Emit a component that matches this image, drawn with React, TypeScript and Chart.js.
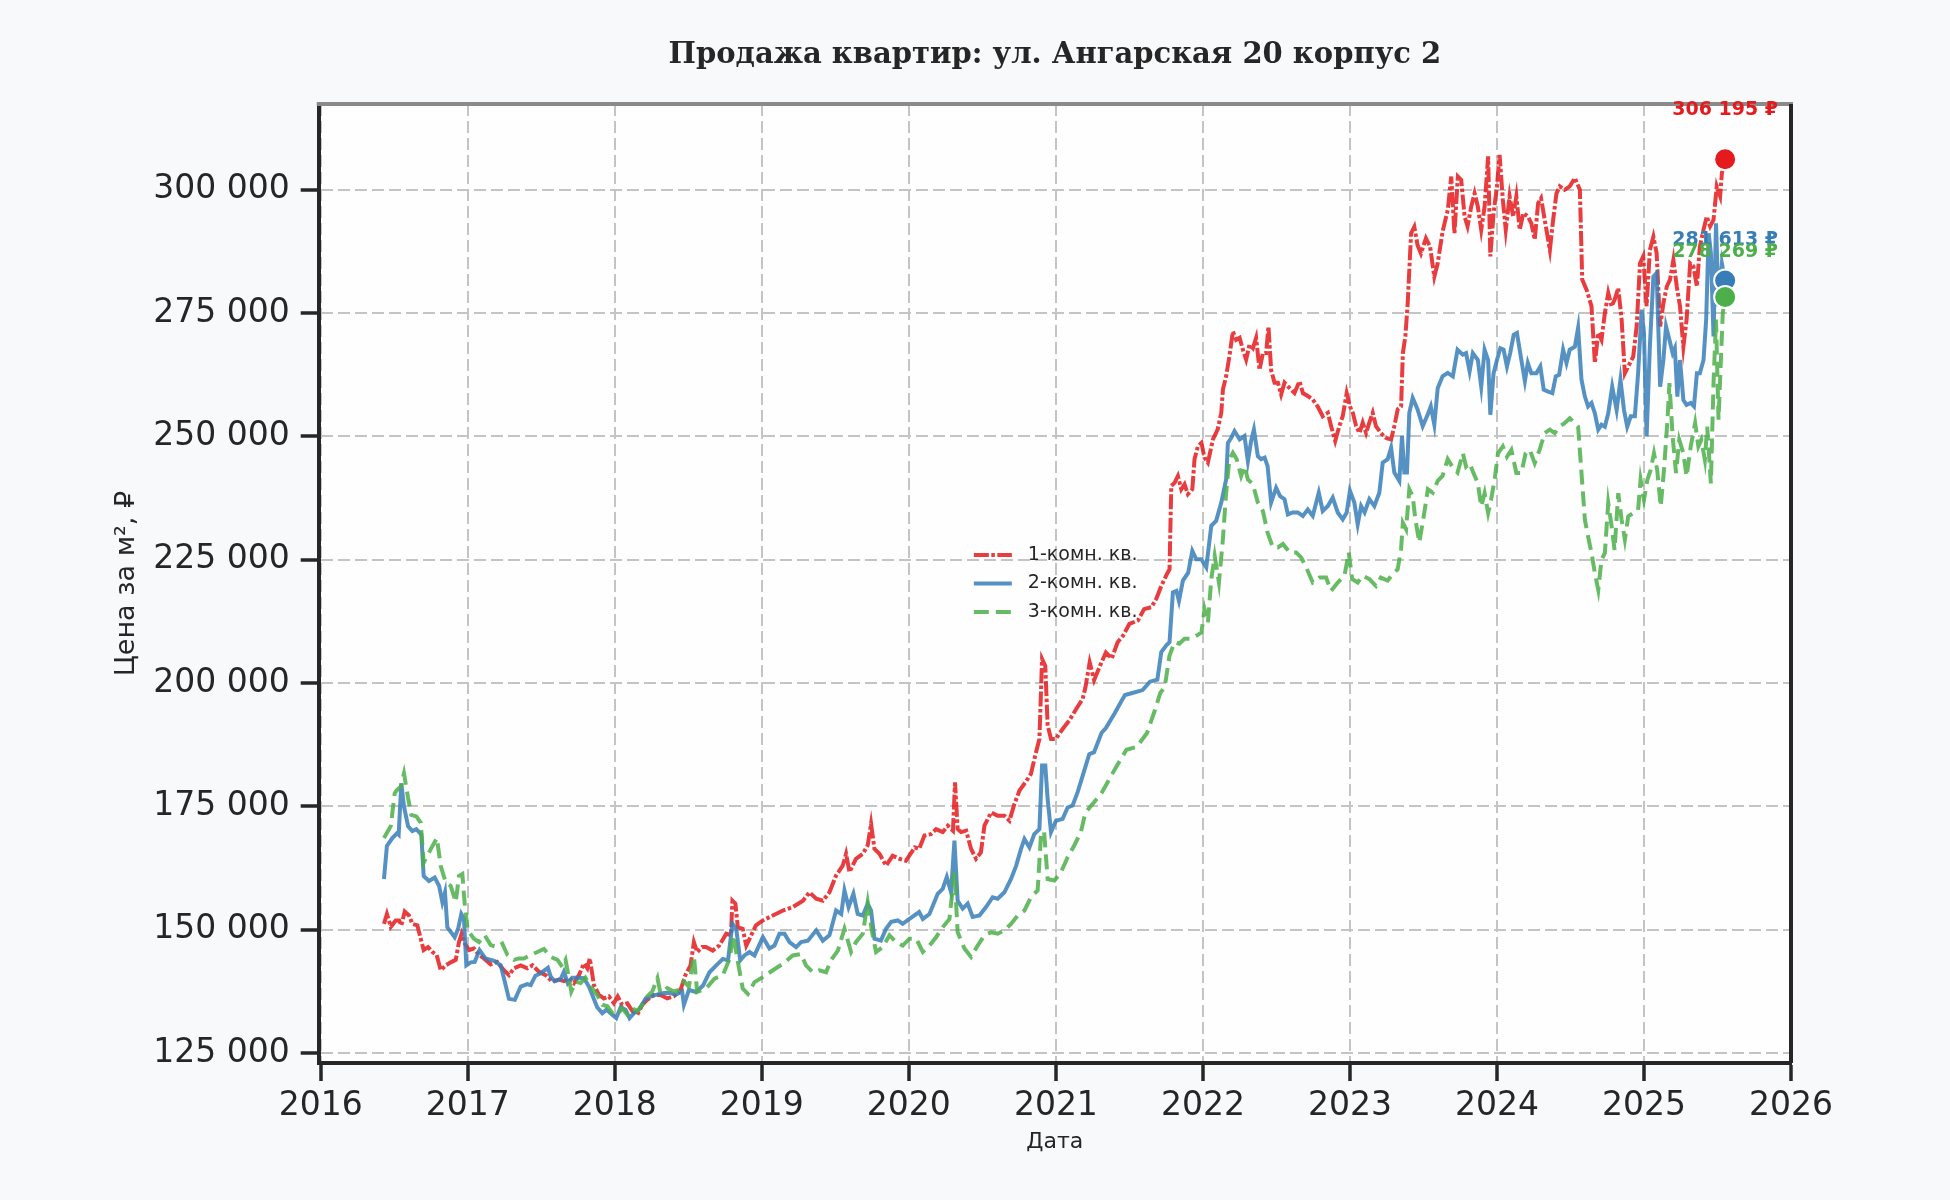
import { useEffect, useRef } from 'react';
import { Chart, registerables } from 'chart.js';

Chart.register(...registerables);

// texts
const chartTitle = 'Продажа квартир: ул. Ангарская 20 корпус 2';
const xAxisTitle = 'Дата';
const yAxisTitle = 'Цена за м², ₽';
const seriesLabels = ['1-комн. кв.', '2-комн. кв.', '3-комн. кв.'];

// axis ticks
const yearTicks = [2016, 2017, 2018, 2019, 2020, 2021, 2022, 2023, 2024, 2025, 2026];
const priceTicks = [125000, 150000, 175000, 200000, 225000, 250000, 275000, 300000];

// [год, цена за м²]
const oneRoom: [number, number][] = [
  [2016.43, 151200], [2016.45, 153200], [2016.476, 150600], [2016.51, 151900], [2016.533, 151900],
  [2016.548, 150900], [2016.571, 153700], [2016.6, 152900], [2016.623, 151200], [2016.657, 150900],
  [2016.68, 148200], [2016.7, 145900], [2016.73, 146500], [2016.76, 145500], [2016.788, 144900],
  [2016.816, 141800], [2016.85, 142800], [2016.884, 143400], [2016.918, 143900], [2016.94, 147500],
  [2016.958, 149200], [2016.98, 147200], [2017.008, 145900], [2017.042, 146200], [2017.076, 144900],
  [2017.11, 144200], [2017.156, 143000], [2017.2, 143500], [2017.246, 141800], [2017.28, 140800],
  [2017.314, 142200], [2017.36, 142800], [2017.405, 142200], [2017.44, 142800], [2017.484, 141500],
  [2017.53, 140800], [2017.575, 139500], [2017.62, 139900], [2017.654, 139600], [2017.688, 140200],
  [2017.722, 139200], [2017.756, 140800], [2017.79, 143200], [2017.813, 142200], [2017.83, 144200],
  [2017.858, 138800], [2017.892, 136800], [2017.926, 136100], [2017.96, 136500], [2017.994, 135100],
  [2018.02, 136500], [2018.05, 134800], [2018.085, 135100], [2018.12, 133500], [2018.153, 132800],
  [2018.187, 134800], [2018.22, 135800], [2018.266, 136800], [2018.31, 136800], [2018.357, 136100],
  [2018.4, 136500], [2018.447, 137800], [2018.48, 140800], [2018.515, 142800], [2018.538, 147500],
  [2018.56, 145500], [2018.595, 146500], [2018.62, 146500], [2018.666, 145800], [2018.71, 146800],
  [2018.758, 149200], [2018.79, 148900], [2018.8, 155900], [2018.82, 155300], [2018.837, 150500],
  [2018.87, 150200], [2018.894, 146800], [2018.928, 148900], [2018.96, 150900], [2019.007, 151900],
  [2019.075, 152900], [2019.143, 153900], [2019.21, 154600], [2019.28, 155900], [2019.324, 157600],
  [2019.37, 156300], [2019.415, 155900], [2019.46, 157600], [2019.505, 161000], [2019.55, 163000],
  [2019.573, 165400], [2019.596, 161700], [2019.64, 164400], [2019.687, 165400], [2019.72, 167100],
  [2019.743, 171500], [2019.766, 166400], [2019.8, 165400], [2019.845, 163000], [2019.89, 165000],
  [2019.936, 164400], [2019.98, 164000], [2020.04, 166700], [2020.07, 166400], [2020.106, 169100],
  [2020.15, 169400], [2020.185, 170400], [2020.23, 169800], [2020.265, 171100], [2020.3, 170100],
  [2020.314, 179900], [2020.332, 170400], [2020.355, 169800], [2020.39, 170100], [2020.423, 166400],
  [2020.457, 164400], [2020.49, 165700], [2020.514, 171100], [2020.56, 173800], [2020.604, 173100],
  [2020.65, 173100], [2020.684, 172100], [2020.718, 175500], [2020.752, 178200], [2020.8, 180200],
  [2020.83, 181600], [2020.865, 186000], [2020.888, 188700], [2020.906, 204900], [2020.928, 203500],
  [2020.944, 191400], [2020.967, 188700], [2021.0, 188700], [2021.046, 190700], [2021.09, 192400],
  [2021.137, 194700], [2021.182, 196800], [2021.2, 199000], [2021.23, 204200], [2021.26, 200600],
  [2021.3, 203500], [2021.34, 206200], [2021.38, 205000], [2021.42, 208300], [2021.456, 209600],
  [2021.5, 212000], [2021.558, 212700], [2021.6, 215000], [2021.65, 215400], [2021.683, 217100],
  [2021.717, 219700], [2021.75, 221800], [2021.773, 223100], [2021.785, 240000], [2021.807, 240600],
  [2021.83, 242000], [2021.853, 239300], [2021.875, 240300], [2021.898, 238300], [2021.928, 239300],
  [2021.943, 245400], [2021.966, 248000], [2021.99, 248700], [2022.011, 245700], [2022.034, 244700],
  [2022.068, 249400], [2022.1, 251400], [2022.125, 254800], [2022.136, 259500], [2022.158, 262200],
  [2022.18, 266200], [2022.204, 271300], [2022.226, 269600], [2022.25, 270000], [2022.272, 267600],
  [2022.294, 265600], [2022.317, 268600], [2022.34, 267900], [2022.362, 270000], [2022.385, 263500],
  [2022.408, 266900], [2022.43, 266900], [2022.446, 272300], [2022.464, 263500], [2022.487, 260900],
  [2022.51, 260900], [2022.532, 258500], [2022.555, 260900], [2022.59, 259800], [2022.623, 258800],
  [2022.657, 261200], [2022.68, 258800], [2022.713, 258200], [2022.747, 257500], [2022.78, 256100],
  [2022.815, 254100], [2022.85, 254800], [2022.872, 252100], [2022.9, 249100], [2022.928, 252100],
  [2022.951, 254100], [2022.978, 258800], [2023.0, 256100], [2023.02, 254800], [2023.042, 252100],
  [2023.065, 250700], [2023.087, 252800], [2023.11, 250700], [2023.132, 252800], [2023.155, 254800],
  [2023.177, 252100], [2023.21, 250700], [2023.246, 249700], [2023.28, 249400], [2023.302, 252100],
  [2023.325, 255500], [2023.348, 256100], [2023.36, 266900], [2023.377, 270300], [2023.393, 277000],
  [2023.416, 291200], [2023.438, 292500], [2023.46, 288800], [2023.483, 287100], [2023.517, 290200],
  [2023.545, 288500], [2023.574, 282400], [2023.597, 285100], [2023.63, 291500], [2023.666, 296000],
  [2023.689, 302700], [2023.711, 291200], [2023.734, 302700], [2023.757, 302000], [2023.78, 294600],
  [2023.8, 292600], [2023.825, 296600], [2023.848, 299300], [2023.87, 296600], [2023.893, 291900],
  [2023.916, 296600], [2023.94, 306800], [2023.955, 286500], [2023.977, 295300], [2024.0, 300700],
  [2024.018, 307100], [2024.04, 298000], [2024.06, 291900], [2024.086, 298700], [2024.11, 294600],
  [2024.132, 298700], [2024.155, 291900], [2024.18, 295300], [2024.21, 294600], [2024.234, 293200],
  [2024.257, 289900], [2024.28, 297300], [2024.3, 298300], [2024.325, 293900], [2024.36, 287800],
  [2024.382, 293900], [2024.405, 299300], [2024.427, 300700], [2024.46, 300000], [2024.495, 300700],
  [2024.53, 302400], [2024.564, 300000], [2024.58, 281800], [2024.61, 279700], [2024.643, 276400],
  [2024.666, 264900], [2024.689, 271000], [2024.711, 269600], [2024.734, 275000], [2024.757, 279100],
  [2024.78, 276400], [2024.8, 277700], [2024.825, 280100], [2024.848, 273700], [2024.87, 262800],
  [2024.893, 264200], [2024.927, 266200], [2024.95, 272300], [2024.973, 285100], [2024.995, 286500],
  [2025.018, 276400], [2025.04, 287800], [2025.064, 290500], [2025.086, 287200], [2025.11, 272300],
  [2025.132, 277000], [2025.155, 280400], [2025.177, 281800], [2025.2, 285800], [2025.223, 280400],
  [2025.245, 276400], [2025.268, 268200], [2025.29, 273700], [2025.314, 285100], [2025.336, 284500],
  [2025.36, 280400], [2025.38, 288500], [2025.405, 291900], [2025.427, 294600], [2025.45, 292600],
  [2025.473, 293900], [2025.495, 300700], [2025.518, 298700], [2025.53, 303400], [2025.552, 306195],
];

const twoRoom: [number, number][] = [
  [2016.43, 160300], [2016.45, 167000], [2016.487, 168600], [2016.52, 169600], [2016.53, 169300],
  [2016.548, 179700], [2016.566, 175000], [2016.594, 171000], [2016.623, 170000], [2016.65, 170400],
  [2016.684, 169300], [2016.7, 160900], [2016.736, 159900], [2016.775, 160600], [2016.805, 158900],
  [2016.827, 155600], [2016.845, 157600], [2016.861, 150500], [2016.911, 148500], [2016.934, 150200],
  [2016.956, 153200], [2016.974, 152200], [2016.99, 142800], [2017.02, 143400], [2017.047, 143500],
  [2017.08, 145900], [2017.12, 144200], [2017.18, 143700], [2017.224, 142800], [2017.246, 140200],
  [2017.28, 136000], [2017.32, 135800], [2017.36, 138500], [2017.405, 139000], [2017.428, 138800],
  [2017.46, 140700], [2017.496, 141200], [2017.545, 142300], [2017.564, 140500], [2017.59, 139600],
  [2017.632, 140000], [2017.654, 141500], [2017.68, 139200], [2017.71, 140300], [2017.745, 140300],
  [2017.79, 140200], [2017.824, 138500], [2017.88, 134300], [2017.915, 133100], [2017.944, 133800],
  [2017.971, 133100], [2018.01, 132100], [2018.04, 134300], [2018.073, 133800], [2018.1, 132100],
  [2018.13, 133100], [2018.164, 133800], [2018.21, 136100], [2018.277, 136800], [2018.334, 137200],
  [2018.38, 137200], [2018.413, 136800], [2018.458, 137500], [2018.47, 134800], [2018.504, 137800],
  [2018.553, 137400], [2018.6, 138700], [2018.644, 141400], [2018.69, 142800], [2018.735, 144100],
  [2018.77, 143800], [2018.8, 151200], [2018.826, 150200], [2018.853, 143800], [2018.882, 144800],
  [2018.916, 145500], [2018.95, 144800], [2019.007, 148500], [2019.052, 146200], [2019.086, 146800],
  [2019.12, 149200], [2019.154, 149200], [2019.188, 147500], [2019.233, 146500], [2019.267, 147500],
  [2019.313, 147800], [2019.37, 149900], [2019.415, 147800], [2019.46, 148900], [2019.505, 153900],
  [2019.54, 153200], [2019.562, 158000], [2019.59, 154600], [2019.623, 157300], [2019.652, 153200],
  [2019.687, 152900], [2019.72, 155300], [2019.743, 153900], [2019.766, 148200], [2019.81, 147800],
  [2019.845, 150200], [2019.88, 151600], [2019.925, 151900], [2019.958, 151200], [2020.004, 152200],
  [2020.07, 153600], [2020.095, 152200], [2020.14, 153200], [2020.196, 157300], [2020.23, 158300],
  [2020.258, 160700], [2020.287, 157600], [2020.31, 168100], [2020.332, 155900], [2020.366, 154300],
  [2020.4, 155300], [2020.434, 152600], [2020.48, 152900], [2020.525, 154600], [2020.57, 156600],
  [2020.604, 156300], [2020.65, 157600], [2020.695, 160300], [2020.73, 163000], [2020.763, 166400],
  [2020.786, 168400], [2020.82, 166700], [2020.853, 169400], [2020.888, 170400], [2020.906, 183300],
  [2020.928, 183300], [2020.944, 176500], [2020.967, 169800], [2021.0, 172100], [2021.046, 172500],
  [2021.08, 174800], [2021.114, 175200], [2021.148, 177900], [2021.182, 181200], [2021.227, 185600],
  [2021.26, 186000], [2021.31, 189900], [2021.34, 190900], [2021.4, 193900], [2021.45, 196600],
  [2021.47, 197600], [2021.52, 198000], [2021.59, 198600], [2021.64, 200300], [2021.69, 200700],
  [2021.717, 206300], [2021.75, 207600], [2021.773, 208300], [2021.796, 218400], [2021.82, 218700],
  [2021.837, 216700], [2021.864, 220800], [2021.9, 222400], [2021.928, 226800], [2021.955, 225100],
  [2021.99, 225100], [2022.023, 223500], [2022.057, 231900], [2022.09, 232900], [2022.125, 236600],
  [2022.158, 241300], [2022.17, 248700], [2022.192, 249700], [2022.215, 251100], [2022.25, 249400],
  [2022.283, 250100], [2022.306, 245000], [2022.328, 249100], [2022.347, 251400], [2022.374, 246000],
  [2022.396, 245400], [2022.42, 245700], [2022.44, 244000], [2022.464, 236600], [2022.498, 239600],
  [2022.525, 237900], [2022.555, 237300], [2022.578, 234200], [2022.61, 234600], [2022.645, 234600],
  [2022.68, 233900], [2022.713, 235200], [2022.747, 233900], [2022.788, 238600], [2022.815, 234900],
  [2022.85, 235900], [2022.883, 237600], [2022.917, 234600], [2022.951, 233200], [2022.978, 234600],
  [2023.0, 239000], [2023.03, 236600], [2023.053, 232200], [2023.076, 235900], [2023.1, 234600],
  [2023.132, 237300], [2023.166, 235900], [2023.2, 238600], [2023.223, 244700], [2023.257, 245400],
  [2023.28, 247700], [2023.302, 242700], [2023.336, 241000], [2023.354, 250100], [2023.37, 242700],
  [2023.388, 242700], [2023.404, 254800], [2023.427, 257800], [2023.46, 255500], [2023.495, 252100],
  [2023.53, 254500], [2023.55, 256100], [2023.574, 252400], [2023.597, 259800], [2023.63, 262200],
  [2023.665, 262900], [2023.7, 262200], [2023.732, 267600], [2023.768, 266600], [2023.79, 266900],
  [2023.814, 263200], [2023.836, 266900], [2023.87, 265500], [2023.893, 260100], [2023.916, 267600],
  [2023.94, 265500], [2023.955, 254400], [2023.977, 262800], [2024.0, 265500], [2024.023, 267900],
  [2024.045, 267600], [2024.068, 264200], [2024.09, 266900], [2024.114, 270600], [2024.136, 271000],
  [2024.166, 265500], [2024.19, 261200], [2024.21, 264900], [2024.234, 262800], [2024.268, 262800],
  [2024.295, 264200], [2024.318, 259500], [2024.348, 259100], [2024.377, 258800], [2024.4, 262200],
  [2024.423, 262500], [2024.45, 267600], [2024.473, 264900], [2024.495, 267600], [2024.53, 268200],
  [2024.552, 272000], [2024.575, 261500], [2024.598, 258100], [2024.62, 256100], [2024.643, 256800],
  [2024.666, 254700], [2024.689, 251400], [2024.711, 252400], [2024.734, 252000], [2024.757, 254700],
  [2024.784, 260100], [2024.814, 255400], [2024.84, 261500], [2024.864, 255400], [2024.886, 252000],
  [2024.91, 254100], [2024.938, 254100], [2024.96, 262800], [2024.984, 275700], [2025.0, 271000],
  [2025.018, 250000], [2025.04, 268200], [2025.064, 282400], [2025.086, 283100], [2025.11, 260100],
  [2025.132, 265500], [2025.15, 272300], [2025.173, 269600], [2025.195, 266900], [2025.21, 267900],
  [2025.227, 258100], [2025.245, 265500], [2025.268, 257400], [2025.29, 256400], [2025.318, 256800],
  [2025.34, 256100], [2025.36, 262800], [2025.38, 262800], [2025.405, 265500], [2025.423, 273700],
  [2025.44, 291200], [2025.455, 287200], [2025.473, 270300], [2025.49, 293200], [2025.507, 276400],
  [2025.53, 285100], [2025.552, 281613],
];

const threeRoom: [number, number][] = [
  [2016.43, 168600], [2016.476, 171000], [2016.503, 177700], [2016.52, 178400], [2016.544, 179000],
  [2016.566, 181700], [2016.594, 176700], [2016.616, 173300], [2016.65, 173000], [2016.68, 171700],
  [2016.7, 163600], [2016.73, 165300], [2016.76, 167000], [2016.79, 168600], [2016.816, 162900],
  [2016.85, 159600], [2016.884, 158900], [2016.918, 155600], [2016.94, 160900], [2016.963, 161300],
  [2016.98, 154900], [2017.0, 149900], [2017.042, 148200], [2017.076, 147500], [2017.115, 148900],
  [2017.156, 146900], [2017.2, 146500], [2017.235, 147200], [2017.27, 144900], [2017.314, 143900],
  [2017.348, 144200], [2017.382, 144200], [2017.428, 144900], [2017.473, 145500], [2017.518, 146100],
  [2017.564, 144500], [2017.61, 143900], [2017.643, 142500], [2017.665, 143900], [2017.68, 141500],
  [2017.704, 137500], [2017.734, 139500], [2017.768, 139200], [2017.8, 140300], [2017.836, 138500],
  [2017.88, 136800], [2017.915, 134800], [2017.95, 134500], [2017.983, 133100], [2018.017, 132800],
  [2018.05, 134100], [2018.085, 132800], [2018.12, 134100], [2018.153, 133500], [2018.187, 134800],
  [2018.22, 136500], [2018.255, 137500], [2018.29, 140200], [2018.31, 137200], [2018.357, 138200],
  [2018.4, 137500], [2018.437, 137800], [2018.47, 139500], [2018.504, 138500], [2018.538, 144700],
  [2018.56, 137400], [2018.62, 138100], [2018.678, 140100], [2018.735, 140800], [2018.78, 144100],
  [2018.807, 148900], [2018.837, 143500], [2018.87, 138100], [2018.905, 137000], [2018.95, 139400],
  [2019.007, 140400], [2019.075, 141800], [2019.143, 143100], [2019.21, 144800], [2019.267, 145100],
  [2019.3, 142800], [2019.347, 141400], [2019.392, 141800], [2019.437, 141400], [2019.47, 143800],
  [2019.517, 145800], [2019.562, 150200], [2019.607, 145500], [2019.64, 147500], [2019.687, 149200],
  [2019.72, 155600], [2019.75, 149500], [2019.777, 145500], [2019.822, 146500], [2019.868, 148900],
  [2019.913, 147500], [2019.958, 146800], [2020.004, 148200], [2020.05, 148200], [2020.095, 145500],
  [2020.14, 146800], [2020.185, 148500], [2020.23, 150500], [2020.276, 152200], [2020.31, 161700],
  [2020.332, 149500], [2020.378, 146200], [2020.423, 144500], [2020.468, 146800], [2020.514, 148900],
  [2020.56, 149500], [2020.604, 149200], [2020.65, 149900], [2020.695, 151200], [2020.74, 152900],
  [2020.786, 153900], [2020.83, 156600], [2020.876, 158000], [2020.9, 169800], [2020.92, 169800],
  [2020.944, 160300], [2020.99, 160000], [2021.035, 161700], [2021.08, 164700], [2021.125, 167100],
  [2021.17, 169800], [2021.2, 173700], [2021.31, 177700], [2021.41, 183000], [2021.48, 186500],
  [2021.55, 187100], [2021.62, 189900], [2021.67, 194200], [2021.71, 198000], [2021.74, 199200],
  [2021.773, 205600], [2021.807, 208300], [2021.84, 208000], [2021.875, 209000], [2021.92, 209000],
  [2021.955, 209600], [2021.99, 210300], [2022.011, 215000], [2022.034, 212300], [2022.057, 221100],
  [2022.08, 225800], [2022.109, 220400], [2022.136, 229200], [2022.158, 238600], [2022.18, 245400],
  [2022.204, 246700], [2022.23, 245400], [2022.26, 242000], [2022.283, 244000], [2022.306, 241300],
  [2022.34, 240300], [2022.374, 236600], [2022.408, 234900], [2022.44, 230500], [2022.476, 227500],
  [2022.51, 227500], [2022.544, 228200], [2022.59, 226500], [2022.634, 226500], [2022.668, 225500],
  [2022.702, 223500], [2022.747, 220400], [2022.793, 221400], [2022.838, 221400], [2022.872, 218700],
  [2022.917, 220400], [2022.963, 221800], [2022.992, 226500], [2023.015, 221100], [2023.053, 220400],
  [2023.087, 221800], [2023.132, 221100], [2023.177, 219700], [2023.21, 221400], [2023.257, 220800],
  [2023.29, 222100], [2023.325, 223100], [2023.348, 227200], [2023.36, 232500], [2023.382, 231200],
  [2023.404, 239300], [2023.427, 237900], [2023.445, 233200], [2023.472, 228500], [2023.506, 234600],
  [2023.53, 239300], [2023.563, 238600], [2023.597, 241000], [2023.63, 242000], [2023.665, 245400],
  [2023.7, 243700], [2023.732, 242700], [2023.768, 246600], [2023.79, 243900], [2023.814, 244600],
  [2023.836, 242900], [2023.87, 240500], [2023.893, 235800], [2023.916, 238500], [2023.94, 234500],
  [2023.96, 237200], [2023.984, 241200], [2024.007, 246600], [2024.04, 248000], [2024.068, 245900],
  [2024.098, 247300], [2024.132, 242600], [2024.166, 242600], [2024.195, 246600], [2024.223, 247300],
  [2024.257, 244600], [2024.29, 247300], [2024.325, 250700], [2024.36, 251400], [2024.393, 250700],
  [2024.427, 252000], [2024.46, 252700], [2024.495, 253700], [2024.52, 253000], [2024.552, 252000],
  [2024.575, 242600], [2024.598, 233100], [2024.62, 229700], [2024.643, 226400], [2024.666, 222300],
  [2024.689, 218900], [2024.711, 225000], [2024.734, 226400], [2024.757, 236500], [2024.78, 231800],
  [2024.8, 227000], [2024.825, 238500], [2024.848, 233100], [2024.87, 229100], [2024.893, 233800],
  [2024.927, 234500], [2024.96, 235100], [2024.977, 241200], [2025.0, 237200], [2025.023, 241200],
  [2025.045, 243200], [2025.068, 246600], [2025.09, 243200], [2025.114, 235800], [2025.136, 243200],
  [2025.16, 253400], [2025.173, 260800], [2025.195, 250000], [2025.218, 242600], [2025.24, 249300],
  [2025.268, 246600], [2025.29, 241900], [2025.318, 248000], [2025.348, 252700], [2025.37, 248000],
  [2025.39, 249300], [2025.414, 245300], [2025.43, 252000], [2025.455, 240500], [2025.473, 260800],
  [2025.49, 273700], [2025.507, 253400], [2025.525, 266900], [2025.536, 275000], [2025.552, 278269],
];

const allSeries = [oneRoom, twoRoom, threeRoom];

// styles
const FIG_BG = '#f8f9fb';
const PLOT_BG = '#fefefe';
const INK = '#262626';
const lineColors = ['rgba(228,26,28,0.85)', 'rgba(55,126,184,0.85)', 'rgba(77,175,74,0.85)'];
const dotColors = ['#e41a1c', '#377eb8', '#4daf4a'];
const lineDashes = [[15, 2.5, 3.5, 2.5], [], [15, 7]];
const labelOffsets = [-49, -40, -45];

const fmt = (v: number) => Math.round(v).toString().replace(/\B(?=(\d{3})+(?!\d))/g, ' ');

const backgroundPlugin = {
  id: 'bg',
  beforeDraw(chart: any) {
    const { ctx, chartArea: a, width, height } = chart;
    ctx.save();
    ctx.fillStyle = FIG_BG;
    ctx.fillRect(0, 0, width, height);
    ctx.fillStyle = PLOT_BG;
    ctx.fillRect(a.left, a.top, a.right - a.left, a.bottom - a.top);
    ctx.restore();
  },
};

const framePlugin = {
  id: 'frame',
  afterDatasetsDraw(chart: any) {
    const { ctx, chartArea: a } = chart;
    ctx.save();
    ctx.lineWidth = 4;
    ctx.strokeStyle = '#8a8a8a';
    ctx.beginPath();
    ctx.moveTo(a.left - 2, a.top);
    ctx.lineTo(a.right + 2, a.top);
    ctx.stroke();
    ctx.strokeStyle = INK;
    ctx.beginPath();
    ctx.moveTo(a.right, a.top);
    ctx.lineTo(a.right, a.bottom);
    ctx.stroke();
    ctx.restore();
  },
};

const endLabelPlugin = {
  id: 'endLabels',
  afterDatasetsDraw(chart: any) {
    const { ctx } = chart;
    ctx.save();
    ctx.font = 'bold 19px "DejaVu Sans"';
    ctx.textAlign = 'center';
    ctx.textBaseline = 'middle';
    allSeries.forEach((series, i) => {
      const meta = chart.getDatasetMeta(i);
      const pt = meta.data[meta.data.length - 1];
      const last = series[series.length - 1];
      ctx.fillStyle = dotColors[i];
      ctx.fillText(`${fmt(last[1])} ₽`, pt.x, pt.y + labelOffsets[i]);
    });
    ctx.restore();
  },
};

const titleLegendPlugin = {
  id: 'titleLegend',
  afterDraw(chart: any) {
    const { ctx, chartArea: a } = chart;
    const cx = (a.left + a.right) / 2;
    const cy = (a.top + a.bottom) / 2;
    ctx.save();
    ctx.fillStyle = INK;
    ctx.font = 'bold 29px "DejaVu Serif"';
    ctx.textAlign = 'center';
    ctx.textBaseline = 'middle';
    ctx.fillText(chartTitle, cx, 55);

    const x0 = cx - 81;
    ctx.font = '19px "DejaVu Sans"';
    ctx.textAlign = 'left';
    seriesLabels.forEach((label, i) => {
      const y = cy + (i - 1) * 28.5;
      ctx.strokeStyle = lineColors[i];
      ctx.lineWidth = 4;
      ctx.setLineDash(lineDashes[i]);
      ctx.beginPath();
      ctx.moveTo(x0, y);
      ctx.lineTo(x0 + 38, y);
      ctx.stroke();
      ctx.setLineDash([]);
      ctx.fillStyle = INK;
      ctx.fillText(label, x0 + 54, y);
    });
    ctx.restore();
  },
};

const tickFont = { family: 'DejaVu Sans', size: 33 };
const gridOpts = { color: '#c4c4c4', lineWidth: 2, tickLength: 18, tickWidth: 3.5, tickColor: INK };
const borderOpts = { display: true, color: INK, width: 4, dash: [12, 5] };

const PriceChart = () => {
  const canvasRef = useRef<HTMLCanvasElement | null>(null);
  const chartRef = useRef<Chart | null>(null);

  useEffect(() => {
    const ctx = canvasRef.current!.getContext('2d')!;
    if (chartRef.current) chartRef.current.destroy();

    chartRef.current = new Chart(ctx, {
      type: 'line',
      data: {
        datasets: allSeries.map((series, i) => ({
          label: seriesLabels[i],
          data: series.map(([x, y]) => ({ x, y })),
          borderColor: lineColors[i],
          borderWidth: 4,
          borderDash: lineDashes[i],
          tension: 0,
          fill: false,
          order: 2 - i,
          pointRadius: (c: any) => (c.dataIndex === series.length - 1 ? 11 : 0),
          pointHoverRadius: 0,
          pointBackgroundColor: dotColors[i],
          pointBorderColor: '#ffffff',
          pointBorderWidth: 2,
        })),
      },
      options: {
        animation: false,
        responsive: false,
        devicePixelRatio: 1,
        events: [],
        layout: { padding: { top: 104, right: 159, bottom: 0, left: 0 } },
        plugins: {
          legend: { display: false },
          tooltip: { enabled: false },
          title: { display: false },
        },
        scales: {
          x: {
            type: 'linear',
            min: 2015.986,
            max: 2026,
            afterBuildTicks: (axis: any) => {
              axis.ticks = yearTicks.map((value) => ({ value }));
            },
            afterFit: (axis: any) => {
              axis.height = 137;
            },
            ticks: {
              callback: (v: any) => String(v),
              font: tickFont,
              color: INK,
              padding: 6,
              maxRotation: 0,
              autoSkip: false,
            },
            grid: gridOpts,
            border: borderOpts,
            title: {
              display: true,
              text: xAxisTitle,
              font: { family: 'DejaVu Sans', size: 22 },
              color: INK,
              padding: { top: 0, bottom: 45 },
            },
          },
          y: {
            type: 'linear',
            min: 123000,
            max: 317400,
            afterBuildTicks: (axis: any) => {
              axis.ticks = priceTicks.map((value) => ({ value }));
            },
            afterFit: (axis: any) => {
              axis.width = 318.7;
            },
            ticks: {
              callback: (v: any) => fmt(Number(v)),
              font: tickFont,
              color: INK,
              padding: 11,
              autoSkip: false,
            },
            grid: gridOpts,
            border: borderOpts,
            title: {
              display: true,
              text: yAxisTitle,
              font: { family: 'DejaVu Sans', size: 27 },
              color: INK,
              padding: { top: 110.5, bottom: 0 },
            },
          },
        },
      },
      plugins: [backgroundPlugin, framePlugin, endLabelPlugin, titleLegendPlugin],
    } as any);

    return () => {
      if (chartRef.current) {
        chartRef.current.destroy();
        chartRef.current = null;
      }
    };
  }, []);

  return (
    <canvas
      ref={canvasRef}
      width={1950}
      height={1200}
      style={{ position: 'absolute', left: 0, top: 0, width: 1950, height: 1200 }}
    />
  );
};

export default function App() {
  return <PriceChart />;
}
